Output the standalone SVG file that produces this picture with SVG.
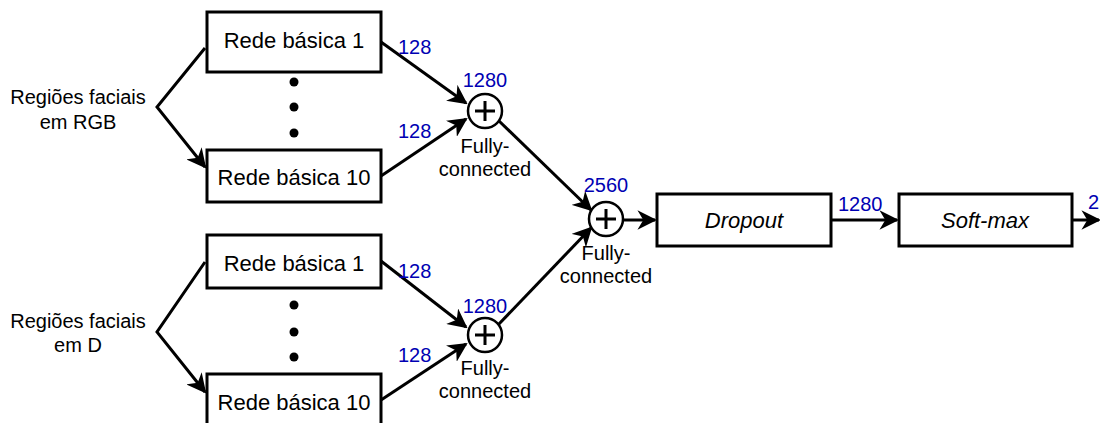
<svg xmlns="http://www.w3.org/2000/svg" width="1100" height="423" viewBox="0 0 1100 423">
<style>
.box{fill:#fff;stroke:#000;stroke-width:3}
.t{font-family:"Liberation Sans",Arial,sans-serif;font-size:22px;fill:#000;text-anchor:middle}
.lbl{font-family:"Liberation Sans",Arial,sans-serif;font-size:20px;fill:#000;text-anchor:middle}
.num{font-family:"Liberation Sans",Arial,sans-serif;font-size:20px;fill:#0000b3}
.c{fill:none;stroke:#000;stroke-width:3}
.a{fill:none;stroke:#000;stroke-width:3;marker-end:url(#arr)}
.sum{fill:#fff;stroke:#000;stroke-width:2.5}
</style>
<defs>
<marker id="arr" viewBox="0 0 10 10" refX="9" refY="5" markerWidth="6.5" markerHeight="6.5" markerUnits="strokeWidth" orient="auto">
<path d="M0,0 L10,5 L0,10 L3,5 z" fill="#000"/>
</marker>
</defs>
<g id="connectors">
<polyline class="a" points="205,48 157,107 205,167"/>
<polyline class="a" points="205,262 157,332 205,392"/>
<line class="a" x1="381" y1="42" x2="466" y2="103"/>
<line class="a" x1="381" y1="176" x2="466" y2="119"/>
<line class="a" x1="381" y1="261" x2="466" y2="327"/>
<line class="a" x1="381" y1="400" x2="466" y2="344"/>
<line class="a" x1="498" y1="120" x2="591" y2="210"/>
<line class="a" x1="498" y1="325" x2="591" y2="228"/>
<line class="a" x1="623" y1="220" x2="655" y2="220"/>
<line class="a" x1="831" y1="220" x2="897" y2="220"/>
<line class="a" x1="1072" y1="220" x2="1099" y2="220"/>
</g>
<g id="input-rgb"><text class="lbl" x="78" y="104">Regiões faciais</text><text class="lbl" x="78" y="129">em RGB</text></g>
<g id="input-d"><text class="lbl" x="78" y="328">Regiões faciais</text><text class="lbl" x="78" y="352">em D</text></g>
<g id="rgb-net1"><rect class="box" x="207" y="12" width="174" height="60"/><text class="t" x="294" y="48">Rede básica 1</text></g>
<g id="rgb-dots"><circle cx="294" cy="82" r="4.5"/><circle cx="294" cy="107" r="4.5"/><circle cx="294" cy="133" r="4.5"/></g>
<g id="rgb-net10"><rect class="box" x="207" y="150" width="174" height="52"/><text class="t" x="294" y="185">Rede básica 10</text></g>
<g id="d-net1"><rect class="box" x="207" y="235" width="174" height="53"/><text class="t" x="294" y="271">Rede básica 1</text></g>
<g id="d-dots"><circle cx="294" cy="305" r="4.5"/><circle cx="294" cy="332" r="4.5"/><circle cx="294" cy="357" r="4.5"/></g>
<g id="d-net10"><rect class="box" x="207" y="374" width="174" height="60"/><text class="t" x="294" y="410">Rede básica 10</text></g>
<g id="sum-rgb"><circle class="sum" cx="485" cy="111" r="17"/><path class="c" d="M475,111 H495 M485,101 V121"/><text class="num" x="485" y="87" text-anchor="middle">1280</text><text class="lbl" x="485" y="153">Fully-</text><text class="lbl" x="485" y="176">connected</text></g>
<g id="sum-d"><circle class="sum" cx="485" cy="335" r="17"/><path class="c" d="M475,335 H495 M485,325 V345"/><text class="num" x="485" y="313" text-anchor="middle">1280</text><text class="lbl" x="485" y="375">Fully-</text><text class="lbl" x="485" y="398">connected</text></g>
<g id="sum-all"><circle class="sum" cx="606" cy="219" r="17"/><path class="c" d="M596,219 H616 M606,209 V229"/><text class="num" x="606" y="192" text-anchor="middle">2560</text><text class="lbl" x="606" y="260">Fully-</text><text class="lbl" x="606" y="283">connected</text></g>
<g id="dropout"><rect class="box" x="657" y="194" width="174" height="52"/><text class="t" x="744" y="228" font-style="italic">Dropout</text></g>
<g id="softmax"><rect class="box" x="899" y="194" width="173" height="52"/><text class="t" x="985" y="228" font-style="italic">Soft-max</text></g>
<g id="labels">
<text class="num" x="398" y="54">128</text>
<text class="num" x="398" y="138">128</text>
<text class="num" x="398" y="278">128</text>
<text class="num" x="398" y="362">128</text>
<text class="num" x="838" y="211">1280</text>
<text class="num" x="1088" y="209">2</text>
</g>
</svg>
